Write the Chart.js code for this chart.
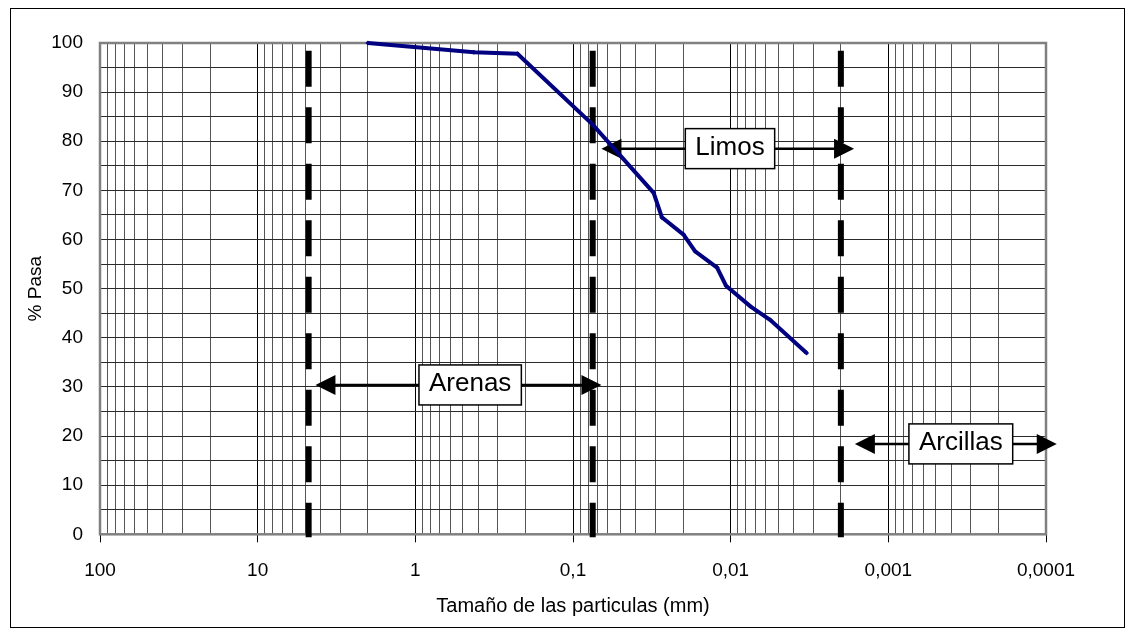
<!DOCTYPE html>
<html>
<head>
<meta charset="utf-8">
<script src="https://cdn.jsdelivr.net/npm/chart.js@4.4.1/dist/chart.umd.min.js"></script>
<style>
html, body { margin: 0; padding: 0; background: #fff; }
</style>
</head>
<body>
<canvas id="granulometria" width="1135" height="637"></canvas>
<script>
// curva granulometrica (diametro mm / % que pasa)
const diametros = [2.0, 0.425, 0.225, 0.075, 0.0308, 0.0273, 0.0199, 0.0168, 0.0122, 0.0107, 0.0075, 0.0056, 0.0033];
const pasa = [100, 98.1, 97.8, 83.4, 69.5, 64.5, 61.0, 57.6, 54.3, 50.6, 46.4, 43.6, 36.9];

// eje x logaritmico
const xDecadas = [100, 10, 1, 0.1, 0.01, 0.001, 0.0001];
const xEtiquetas = ['100', '10', '1', '0,1', '0,01', '0,001', '0,0001'];
const xMenores = [2, 3, 4, 5, 6, 7, 8, 9];

// limites de zonas y flechas
const limites = [4.75, 0.075, 0.002];
const limiteArriba = 98.4;
const zonas = ['Arenas', 'Limos', 'Arcillas'];
const zonaDesde = [4.3, 0.066, 0.00163];
const zonaHasta = [0.066, 0.00165, 0.0000855];
const zonaY = [30.4, 78.5, 18.4];
const zonaTextoX = [0.449, 0.0101, 0.000347];

const fuente = 'Arial, "Liberation Sans", sans-serif';
Chart.defaults.font.family = fuente;
Chart.defaults.font.size = 19;
Chart.defaults.color = '#000';

function esDecada(v) {
    return xDecadas.findIndex(d => Math.abs(v - d) / d < 1e-6);
}

function cabeza(ctx, tipX, py, dir) {
    ctx.beginPath();
    ctx.moveTo(tipX, py);
    ctx.lineTo(tipX + dir * 20, py - 10);
    ctx.lineTo(tipX + dir * 20, py + 10);
    ctx.closePath();
    ctx.fill();
}

const extras = {
    id: 'extras',
    beforeDraw(chart) {
        const ctx = chart.ctx;
        ctx.save();
        ctx.fillStyle = '#fff';
        ctx.fillRect(0, 0, chart.width, chart.height);
        ctx.strokeStyle = '#000';
        ctx.lineWidth = 1;
        ctx.strokeRect(10.5, 8.5, chart.width - 21, chart.height - 18);
        ctx.restore();
    },
    beforeDatasetsDraw(chart) {
        const {ctx, chartArea: a, scales: {x, y}} = chart;
        ctx.save();
        // marco del area de trazado
        ctx.strokeStyle = '#808080';
        ctx.lineWidth = 2.5;
        ctx.strokeRect(a.left, a.top, a.right - a.left, a.bottom - a.top);

        // lineas de limite
        ctx.strokeStyle = '#000';
        ctx.lineWidth = 6;
        ctx.setLineDash([36, 20.5]);
        limites.forEach(d => {
            const px = x.getPixelForValue(d);
            ctx.beginPath();
            ctx.moveTo(px, y.getPixelForValue(limiteArriba));
            ctx.lineTo(px, a.bottom + 3);
            ctx.stroke();
        });
        ctx.setLineDash([]);

        // flechas y etiquetas
        zonas.forEach((nombre, i) => {
            const x1 = x.getPixelForValue(zonaDesde[i]);
            const x2 = x.getPixelForValue(zonaHasta[i]);
            const py = y.getPixelForValue(zonaY[i]);
            const l = Math.min(x1, x2), r = Math.max(x1, x2);
            ctx.strokeStyle = '#000';
            ctx.fillStyle = '#000';
            ctx.lineWidth = 2.5;
            ctx.beginPath();
            ctx.moveTo(l + 15, py);
            ctx.lineTo(r - 15, py);
            ctx.stroke();
            cabeza(ctx, l, py, 1);
            cabeza(ctx, r, py, -1);

            ctx.font = '26px ' + fuente;
            const w = ctx.measureText(nombre).width + 20;
            const h = 40;
            const cx = x.getPixelForValue(zonaTextoX[i]);
            ctx.fillStyle = '#fff';
            ctx.fillRect(cx - w / 2, py - h / 2, w, h);
            ctx.lineWidth = 1.5;
            ctx.strokeRect(cx - w / 2, py - h / 2, w, h);
            ctx.fillStyle = '#000';
            ctx.textAlign = 'center';
            ctx.textBaseline = 'alphabetic';
            ctx.fillText(nombre, cx, py + 6);
        });
        ctx.restore();
    }
};

var CURVA = document.getElementById('granulometria');

var curvaChart = new Chart(CURVA, {
    type: 'line',
    data: {
        datasets: [
            {
                label: 'Curva granulometrica',
                data: diametros.map((d, i) => ({x: d, y: pasa[i]})),
                borderColor: '#000080',
                backgroundColor: '#000080',
                borderWidth: 4,
                pointRadius: 2.5,
                pointStyle: 'rectRot',
                pointBorderWidth: 0,
                tension: 0,
                fill: false,
                clip: false
            }
        ]
    },
    options: {
        responsive: false,
        animation: false,
        layout: {
            padding: {left: 12, right: 89, top: 43, bottom: 18.7}
        },
        plugins: {
            legend: {display: false},
            tooltip: {enabled: false}
        },
        scales: {
            x: {
                type: 'logarithmic',
                reverse: true,
                min: 0.0001,
                max: 100,
                afterFit: s => { s.height = 84; },
                afterBuildTicks: s => {
                    const t = [];
                    xDecadas.forEach(d => {
                        t.push({value: d});
                        if (d < 100) {
                            xMenores.forEach(m => t.push({value: parseFloat((m * d).toPrecision(6))}));
                        }
                    });
                    s.ticks = t.sort((a, b) => a.value - b.value);
                },
                border: {display: false},
                grid: {
                    color: c => esDecada(c.tick.value) >= 0 ? '#000' : '#555',
                    tickColor: c => esDecada(c.tick.value) >= 0 ? '#000' : 'rgba(0,0,0,0)',
                    tickLength: 8,
                    lineWidth: 1
                },
                ticks: {
                    autoSkip: false,
                    maxRotation: 0,
                    padding: 17,
                    callback: v => {
                        const k = esDecada(v);
                        return k >= 0 ? xEtiquetas[k] : '';
                    }
                },
                title: {
                    display: true,
                    text: 'Tamaño de las particulas (mm)',
                    font: {size: 20},
                    padding: 0
                }
            },
            y: {
                min: 0,
                max: 100,
                afterFit: s => { s.width = 88; },
                border: {display: false},
                grid: {
                    color: '#2a2a2a',
                    drawTicks: false,
                    lineWidth: 1
                },
                ticks: {
                    stepSize: 5,
                    padding: 17,
                    autoSkip: false,
                    callback: v => v % 10 === 0 ? String(v) : ''
                },
                title: {
                    display: true,
                    text: '% Pasa',
                    font: {size: 19},
                    padding: {top: 12, bottom: 0}
                }
            }
        }
    },
    plugins: [extras]
});
</script>
</body>
</html>
